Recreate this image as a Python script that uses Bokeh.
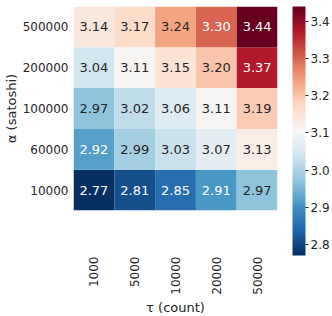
import numpy as np
from bokeh.plotting import figure
from bokeh.models import (ColumnDataSource, LinearColorMapper, ColorBar,
                          FixedTicker, PrintfTickFormatter)
from bokeh.core.properties import value
from bokeh.embed import file_html
from bokeh.resources import INLINE

# ---- data -------------------------------------------------------------
tau_labels = ["1000", "5000", "10000", "20000", "50000"]
alpha_labels = ["10000", "60000", "100000", "200000", "500000"]
vals_alpha_10000 = [2.77, 2.81, 2.85, 2.91, 2.97]
vals_alpha_60000 = [2.92, 2.99, 3.03, 3.07, 3.13]
vals_alpha_100000 = [2.97, 3.02, 3.06, 3.11, 3.19]
vals_alpha_200000 = [3.04, 3.11, 3.15, 3.20, 3.37]
vals_alpha_500000 = [3.14, 3.17, 3.24, 3.30, 3.44]
cbar_ticks = [2.8, 2.9, 3.0, 3.1, 3.2, 3.3, 3.4]

rows = [vals_alpha_10000, vals_alpha_60000, vals_alpha_100000,
        vals_alpha_200000, vals_alpha_500000]

# ---- RdBu_r colormap (256 steps from the 11 ColorBrewer anchors) ---------
anchors = ["#053061", "#2166ac", "#4393c3", "#92c5de", "#d1e5f0", "#f7f7f7",
           "#fddbc7", "#f4a582", "#d6604d", "#b2182b", "#67001f"]
anc = np.array([[int(h[i:i + 2], 16) for i in (1, 3, 5)] for h in anchors], float)
N = 256
palette = []
rgb_lut = []
for i in range(N):
    t = i / (N - 1) * (len(anchors) - 1)
    k = min(int(t), len(anchors) - 2)
    f = t - k
    c = anc[k] * (1 - f) + anc[k + 1] * f
    c = np.round(c).astype(int)
    rgb_lut.append(c)
    palette.append("#%02x%02x%02x" % tuple(c))

allv = np.array(rows, float)
vmin, vmax = float(allv.min()), float(allv.max())
mapper = LinearColorMapper(palette=palette, low=vmin, high=vmax)


def text_color(v):
    idx = int((v - vmin) / (vmax - vmin) * N)
    idx = max(0, min(N - 1, idx))
    c = rgb_lut[idx] / 255.0
    lin = np.where(c <= 0.03928, c / 12.92, ((c + 0.055) / 1.055) ** 2.4)
    lum = 0.2126 * lin[0] + 0.7152 * lin[1] + 0.0722 * lin[2]
    return "#262626" if lum > 0.408 else "#ffffff"


xs, ys, vs, labs, tcs = [], [], [], [], []
for a, row in zip(alpha_labels, rows):
    for t, v in zip(tau_labels, row):
        xs.append(t)
        ys.append(a)
        vs.append(v)
        labs.append("%.2f" % v)
        tcs.append(text_color(v))
src = ColumnDataSource(dict(x=xs, y=ys, v=vs, label=labs, tc=tcs))

# ---- figure -----------------------------------------------------------
FONT = "DejaVu Sans"
INK = "#262626"

p = figure(x_range=tau_labels, y_range=alpha_labels,
           frame_width=204, frame_height=204,
           output_backend="svg", toolbar_location=None,
           min_border_top=6, min_border_left=0, min_border_right=0,
           min_border_bottom=0)

p.rect(x="x", y="y", width=1, height=1, source=src,
       fill_color={"field": "v", "transform": mapper}, line_color=None)
p.text(x="x", y="y", text="label", source=src, text_color="tc",
       text_align="center", text_baseline="middle",
       text_font=value(FONT), text_font_size="13px")

p.xaxis.axis_label = "τ (count)"
p.yaxis.axis_label = "α (satoshi)"
for ax in (p.xaxis, p.yaxis):
    ax.axis_line_color = None
    ax.major_tick_line_color = None
    ax.minor_tick_line_color = None
    ax.major_tick_in = 0
    ax.major_tick_out = 0
    ax.major_label_text_font = FONT
    ax.major_label_text_font_size = "12px"
    ax.major_label_text_color = INK
    ax.axis_label_text_font = FONT
    ax.axis_label_text_font_size = "13px"
    ax.axis_label_text_font_style = "normal"
    ax.axis_label_text_color = INK
p.xaxis.major_label_orientation = np.pi / 2
p.xaxis.major_label_standoff = 46
p.xaxis.axis_label_standoff = 2
p.yaxis.major_label_standoff = 5
p.yaxis.axis_label_standoff = 1

p.grid.visible = False
p.outline_line_color = None

cb = ColorBar(color_mapper=mapper, ticker=FixedTicker(ticks=cbar_ticks),
              formatter=PrintfTickFormatter(format="%.1f"),
              width=13, height=249, location=(15, -45),
              padding=0, margin=0,
              major_tick_in=0, major_tick_out=3,
              major_tick_line_color=INK, minor_tick_line_color=None,
              bar_line_color=None, border_line_color=None,
              background_fill_color=None,
              major_label_text_font=FONT, major_label_text_font_size="12px",
              major_label_text_color=INK, label_standoff=2)
p.add_layout(cb, "right")

open("out.html", "w").write(file_html(p, INLINE))
